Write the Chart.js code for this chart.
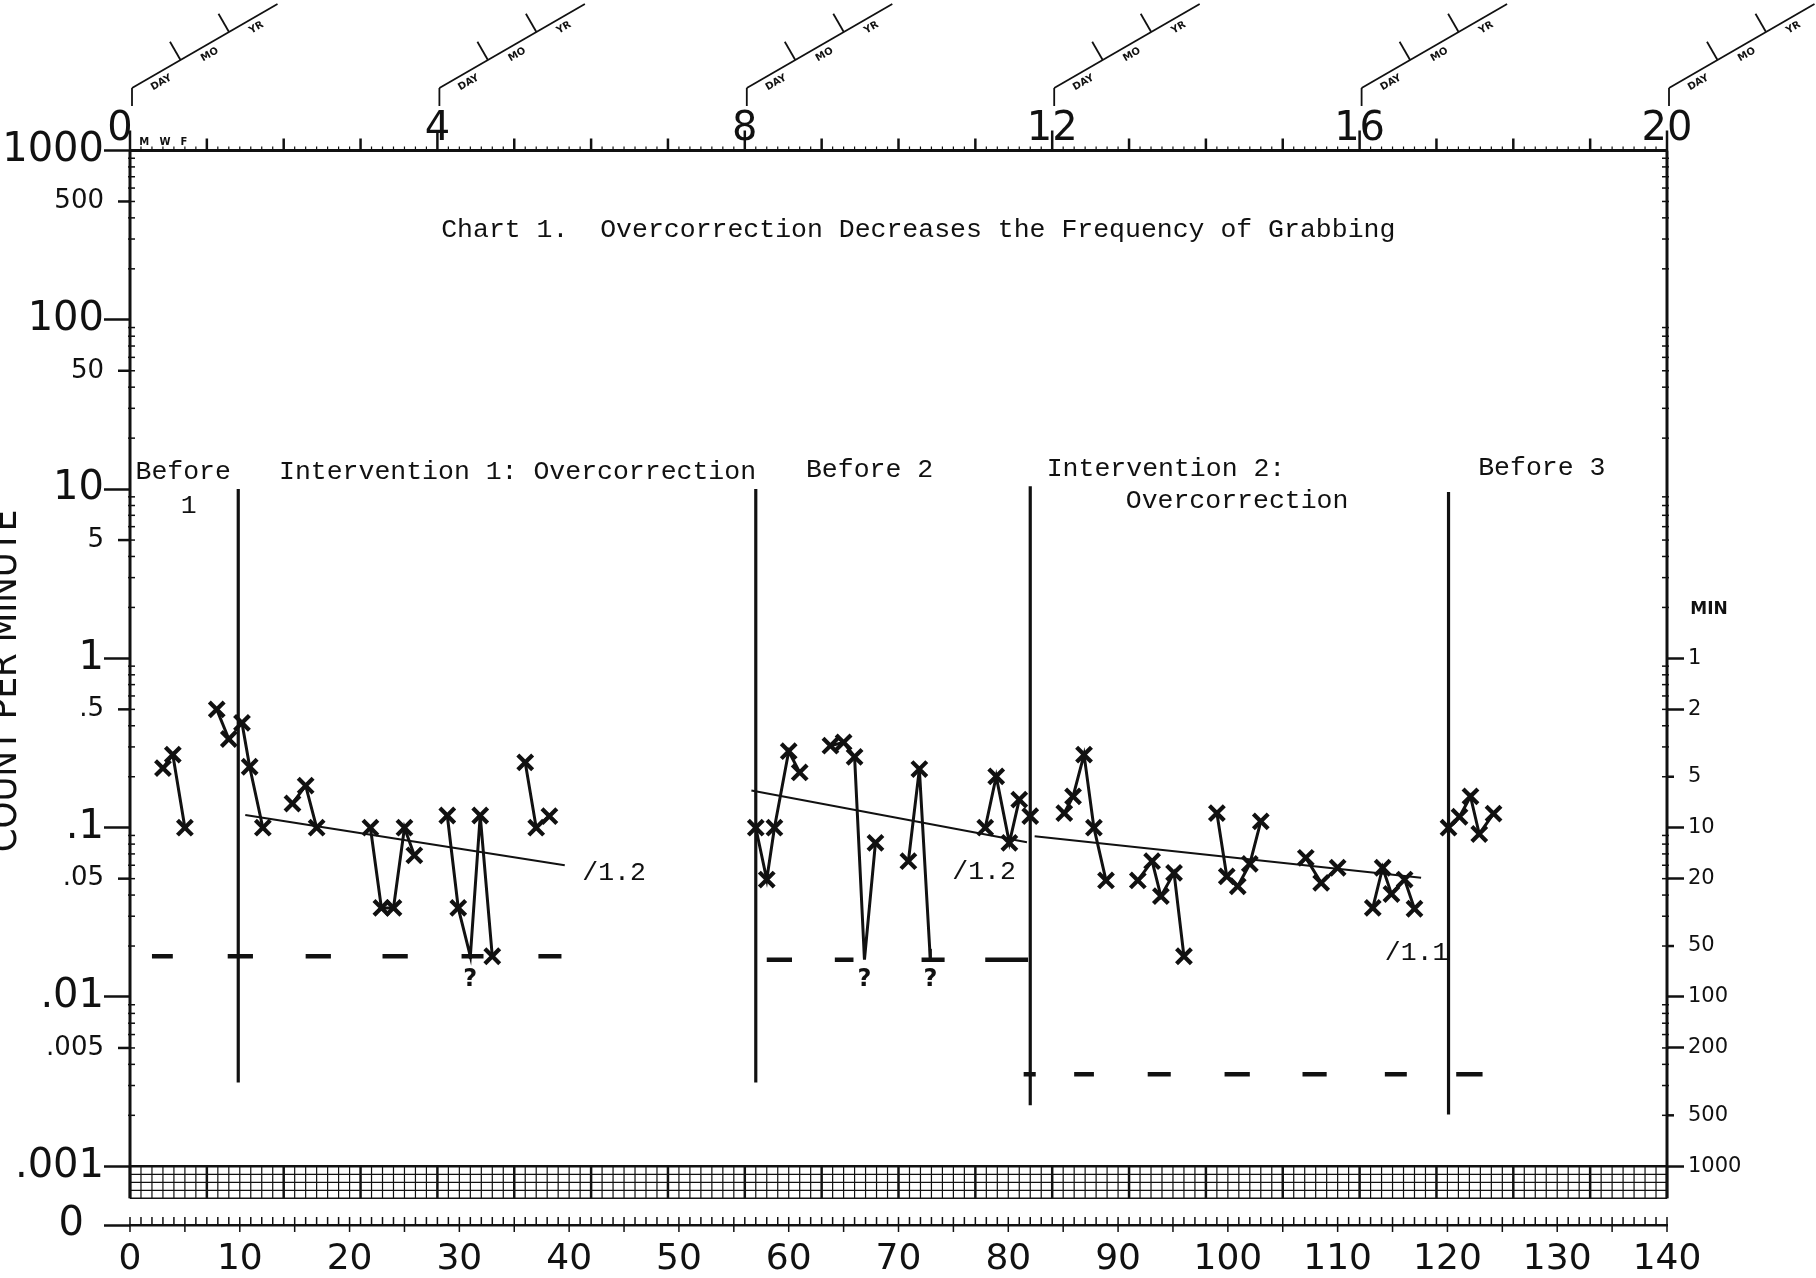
<!DOCTYPE html>
<html>
<head>
<meta charset="utf-8">
<title>Chart 1. Overcorrection Decreases the Frequency of Grabbing</title>
<script src="https://cdn.jsdelivr.net/npm/chart.js@4.4.1/dist/chart.umd.min.js"></script>
<style>
  html, body { margin: 0; padding: 0; background: #fff; }
  canvas { display: block; }
</style>
</head>
<body>
<canvas id="celeration" width="1816" height="1278"></canvas>
<script>
// Standard celeration chart: calendar days across, count per minute on a log axis.
// Values below.

const before1Days = [3, 3.9, 5, 7.9, 9];
const before1Counts = [0.225, 0.27, 0.1, 0.5, 0.334];

const interv1Days = [10.2, 10.9, 12.1, 14.8, 16, 17, 21.9, 22.9, 24, 25, 25.9, 28.9, 29.9, 31, 31.9, 33, 36, 37, 38.2];
const interv1Counts = [0.416, 0.229, 0.1, 0.139, 0.177, 0.1, 0.1, 0.0336, 0.0336, 0.1, 0.0687, 0.118, 0.0336, 0.0174, 0.118, 0.0174, 0.243, 0.1, 0.117];

const before2Days = [57, 58, 58.7, 60, 61, 63.8, 65, 66, 66.9, 67.9, 70.9, 71.9, 72.9, 77.9, 78.9, 80.1, 81];
const before2Counts = [0.1, 0.0494, 0.1, 0.283, 0.212, 0.305, 0.319, 0.262, 0.0166, 0.0813, 0.0634, 0.222, 0.0166, 0.1, 0.201, 0.0813, 0.1465];

const interv2Days = [82, 85.1, 85.9, 86.9, 87.8, 88.9, 91.8, 93.1, 93.9, 95.1, 96, 99, 99.9, 100.9, 102, 103, 107.1, 108.5, 110, 113.2, 114.1, 114.9, 116.1, 117];
const interv2Counts = [0.117, 0.122, 0.153, 0.27, 0.1, 0.0488, 0.0488, 0.0634, 0.0394, 0.0541, 0.0174, 0.122, 0.0516, 0.0451, 0.0611, 0.109, 0.0664, 0.0472, 0.058, 0.0336, 0.058, 0.0406, 0.0494, 0.0332];

const before3Days = [120.1, 121.1, 122.1, 122.9, 124.2];
const before3Counts = [0.1, 0.116, 0.153, 0.0918, 0.121];

// days that fell on the record floor, marked "?" instead of an X
const unsureDays = [31, 66.9, 72.9];

// record floor dashes (1 / minutes observed)
const floorFrom = [2, 8.9, 16, 23, 30.2, 37.2, 58, 64.2, 72.1, 77.9, 81.4, 86, 92.7, 99.7, 106.8, 114.3, 120.8];
const floorTo = [3.9, 11.2, 18.3, 25.3, 32.2, 39.3, 60.3, 65.9, 74.2, 81.8, 82.5, 87.8, 94.8, 102, 109, 116.3, 123.2];
const floorCounts = [0.0174, 0.0174, 0.0174, 0.0174, 0.0174, 0.0174, 0.0166, 0.0166, 0.0166, 0.0166,
  0.0035, 0.0035, 0.0035, 0.0035, 0.0035, 0.0035, 0.0035];

// celeration lines
const celerDays = [[10.5, 39.6], [56.6, 81.7], [82.4, 117.6]];
const celerCounts = [[0.119, 0.06], [0.166, 0.082], [0.0889, 0.0506]];
const celerLabels = ['/1.2', '/1.2', '/1.1'];

// phase change lines
const phaseDays = [9.86, 57, 82, 120.1];
const phaseTop = [10, 10, 10.4, 9.6];
const phaseBottom = [0.00313, 0.00313, 0.00229, 0.00202];

// axes
const ZERO_ROW = 4.5e-4;
const countTicks = [1000, 500, 100, 50, 10, 5, 1, 0.5, 0.1, 0.05, 0.01, 0.005, 0.001, ZERO_ROW];
const countLabels = ['1000', '500', '100', '50', '10', '5', '1', '.5', '.1', '.05', '.01', '.005', '.001', '0\u2002'];
const minuteTicks = [1, 0.5, 0.2, 0.1, 0.05, 0.02, 0.01, 0.005, 0.002, 0.001];
const minuteLabels = ['1', '2', '5', '10', '20', '50', '100', '200', '500', '1000'];
const weekLabels = [0, 4, 8, 12, 16, 20];

const ink = '#111';
const clear = 'rgba(0,0,0,0)';
const NUM = "'DejaVu Sans', sans-serif";
const MONO = "'Liberation Mono', 'DejaVu Sans Mono', monospace";

const isDecade = (v) => Math.abs(Math.log10(v) - Math.round(Math.log10(v))) < 1e-6 || v === ZERO_ROW;
const isTwo = (v) => Math.abs(Math.log10(v / 2) - Math.round(Math.log10(v / 2))) < 1e-6;

function points(days, counts) {
  return days.map((d, i) => ({ x: d, y: counts[i] }));
}

function phaseSeries(days, counts) {
  return {
    type: 'line',
    data: points(days, counts),
    borderColor: ink,
    borderWidth: 3,
    tension: 0,
    pointStyle: 'crossRot',
    pointRadius: (c) => (c.raw && unsureDays.includes(c.raw.x) ? 0 : 10.5),
    pointBorderWidth: 4.2,
    pointBorderColor: ink,
    pointBackgroundColor: ink,
    segment: {
      borderColor: (c) => (c.p1.parsed.x - c.p0.parsed.x > 1.6 ? clear : ink),
    },
  };
}

function plainLine(data, width) {
  return {
    type: 'line',
    data,
    borderColor: ink,
    borderWidth: width,
    pointRadius: 0,
    tension: 0,
    spanGaps: false,
  };
}

const floorData = [];
floorFrom.forEach((d, i) => {
  floorData.push({ x: d, y: floorCounts[i] }, { x: floorTo[i], y: floorCounts[i] }, { x: floorTo[i], y: null });
});

const datasets = [
  phaseSeries(before1Days, before1Counts),
  phaseSeries(interv1Days, interv1Counts),
  phaseSeries(before2Days, before2Counts),
  phaseSeries(interv2Days, interv2Counts),
  phaseSeries(before3Days, before3Counts),
  plainLine(floorData, 4.5),
];
celerDays.forEach((d, i) => datasets.push(plainLine(points(d, celerCounts[i]), 2)));
phaseDays.forEach((d, i) => datasets.push(plainLine([{ x: d, y: phaseTop[i] }, { x: d, y: phaseBottom[i] }], 3.2)));

function seg(ctx, x1, y1, x2, y2) {
  ctx.beginPath();
  ctx.moveTo(x1, y1);
  ctx.lineTo(x2, y2);
  ctx.stroke();
}

const paperDecor = {
  id: 'paperDecor',
  beforeDatasetsDraw(chart) {
    const { ctx, chartArea: a, scales: { x, y } } = chart;
    const X = (d) => x.getPixelForValue(d);
    const Y = (v) => y.getPixelForValue(v);
    const bandTop = Y(0.001);
    const bandBot = bandTop + 32;
    ctx.save();
    ctx.strokeStyle = ink;
    ctx.fillStyle = ink;

    // side axes stop at the bottom of the hatch band
    ctx.lineWidth = 3;
    seg(ctx, a.left, a.top, a.left, bandBot);
    seg(ctx, a.right, a.top, a.right, bandBot);

    // minor log ticks
    ctx.lineWidth = 1.5;
    for (let e = -3; e < 3; e++) {
      for (let k = 2; k < 10; k++) {
        const yy = Y(k * Math.pow(10, e));
        seg(ctx, a.left - 2, yy, a.left + 5, yy);
        seg(ctx, a.right - 5, yy, a.right + 2, yy);
      }
    }
    // short ticks for the half-decade labels on the left, and 2/20/200 on the right
    ctx.lineWidth = 2.5;
    countTicks.forEach((v) => { if (!isDecade(v)) seg(ctx, a.left - 12, Y(v), a.left, Y(v)); });
    minuteTicks.forEach((v) => { if (isTwo(v)) seg(ctx, a.right, Y(v), a.right + 7, Y(v)); });

    // hatch band under .001
    for (let d = 0; d <= 140; d++) {
      ctx.lineWidth = d % 7 === 0 ? 2.5 : 1.2;
      seg(ctx, X(d), bandTop, X(d), bandBot);
    }
    ctx.lineWidth = 1.2;
    [8, 16, 24].forEach((o) => seg(ctx, a.left, bandTop + o, a.right, bandTop + o));
    ctx.lineWidth = 2.5;
    seg(ctx, a.left, bandTop, a.right, bandTop);
    ctx.lineWidth = 1.5;
    seg(ctx, a.left, bandBot, a.right, bandBot);

    // day ticks on the zero row and along the top edge
    for (let d = 0; d <= 140; d++) {
      ctx.lineWidth = 1.5;
      seg(ctx, X(d), a.bottom, X(d), a.bottom - 8);
      if (d % 5 === 0) seg(ctx, X(d), a.bottom, X(d), a.bottom + 7);
      const up = d % 28 === 0 ? 20 : d % 7 === 0 ? 12 : 4;
      ctx.lineWidth = d % 7 === 0 ? 2.5 : 1.2;
      seg(ctx, X(d), a.top, X(d), a.top - up);
    }

    // DAY / MO / YR slants above every fourth week
    ctx.font = 'bold 10px ' + NUM;
    ctx.textAlign = 'center';
    ctx.textBaseline = 'middle';
    for (let d = 0; d <= 140; d += 28) {
      ctx.save();
      ctx.translate(X(d) + 2, 106);
      ctx.lineWidth = 1.8;
      seg(ctx, 0, 0, 0, -18);
      ctx.translate(0, -18);
      ctx.rotate(-Math.PI / 6);
      seg(ctx, 0, 0, 168, 0);
      seg(ctx, 56, 0, 56, -21);
      seg(ctx, 112, 0, 112, -21);
      ctx.fillText('DAY', 28, 10);
      ctx.fillText('MO', 84, 10);
      ctx.fillText('YR', 138, 10);
      ctx.restore();
    }
    ctx.fillText('M', X(1.3), a.top - 8);
    ctx.fillText('W', X(3.2), a.top - 8);
    ctx.fillText('F', X(4.9), a.top - 8);
    ctx.restore();
  },
  afterDatasetsDraw(chart) {
    const { ctx, chartArea: a, scales: { x, y } } = chart;
    const X = (d) => x.getPixelForValue(d);
    const Y = (v) => y.getPixelForValue(v);
    ctx.save();
    ctx.fillStyle = ink;
    ctx.strokeStyle = ink;
    ctx.textBaseline = 'middle';

    ctx.font = '26.5px ' + MONO;
    ctx.textAlign = 'center';
    ctx.fillText('Chart 1.  Overcorrection Decreases the Frequency of Grabbing', X(71.8), Y(340));
    ctx.fillText('1', X(5.35), Y(7.97));
    ctx.textAlign = 'left';
    ctx.fillText('Before', X(0.5), Y(12.6));
    ctx.fillText('Intervention 1: Overcorrection', X(13.57), Y(12.6));
    ctx.fillText('Before 2', X(61.57), Y(13));
    ctx.fillText('Intervention 2:', X(83.5), Y(13.2));
    ctx.fillText('Overcorrection', X(90.7), Y(8.47));
    ctx.fillText('Before 3', X(122.8), Y(13.4));
    ctx.fillText(celerLabels[0], X(41.2), Y(0.0543));
    ctx.fillText(celerLabels[1], X(74.9), Y(0.0551));
    ctx.fillText(celerLabels[2], X(114.3), Y(0.0183));

    ctx.font = 'bold 24px ' + NUM;
    ctx.textAlign = 'center';
    unsureDays.forEach((d) => ctx.fillText('?', X(d), Y(0.0168) + 21));
    ctx.lineWidth = 3;
    unsureDays.forEach((d) => seg(ctx, X(d), Y(0.0168), X(d), Y(0.0168) - 10));

    ctx.font = 'bold 17px ' + NUM;
    ctx.fillText('MIN', a.right + 42, Y(1.95));

    ctx.save();
    ctx.translate(16, 681);
    ctx.rotate(-Math.PI / 2);
    ctx.textBaseline = 'alphabetic';
    ctx.font = "38px 'Liberation Sans Narrow', 'DejaVu Sans Condensed', sans-serif";
    ctx.fillText('COUNT PER MINUTE', 0, 0);
    ctx.restore();
    ctx.restore();
  },
};

new Chart(document.getElementById('celeration'), {
  data: { datasets },
  plugins: [paperDecor],
  options: {
    responsive: false,
    animation: false,
    devicePixelRatio: 1,
    events: [],
    layout: { padding: 0 },
    plugins: { legend: { display: false }, tooltip: { enabled: false } },
    scales: {
      x: {
        type: 'linear',
        position: 'bottom',
        min: 0,
        max: 140,
        afterFit: (s) => { s.height = 53; },
        ticks: { stepSize: 10, autoSkip: false, maxRotation: 0, padding: 13, color: ink, font: { family: NUM, size: 36 } },
        grid: { display: false, drawTicks: false },
        border: { display: true, color: ink, width: 2.5 },
      },
      x2: {
        type: 'linear',
        position: 'top',
        min: 0,
        max: 140,
        afterFit: (s) => { s.height = 150.5; },
        afterBuildTicks: (s) => { s.ticks = weekLabels.map((w) => ({ value: w * 7 })); },
        ticks: {
          autoSkip: false,
          maxRotation: 0,
          padding: -3,
          color: ink,
          font: { family: NUM, size: 40 },
          callback: (v) => (v === 0 ? '0\u2002' : String(v / 7)),
        },
        grid: { display: false, drawTicks: false },
        border: { display: true, color: ink, width: 3 },
      },
      y: {
        type: 'logarithmic',
        position: 'left',
        min: ZERO_ROW,
        max: 1000,
        afterFit: (s) => { s.width = 130; },
        afterBuildTicks: (s) => { s.ticks = countTicks.map((v) => ({ value: v })); },
        ticks: {
          autoSkip: false,
          padding: 0,
          color: ink,
          callback: (v) => countLabels[countTicks.indexOf(v)],
          font: (c) => ({ family: NUM, size: isDecade(c.tick.value) ? 40 : 26 }),
        },
        grid: {
          display: true,
          drawOnChartArea: false,
          drawTicks: true,
          tickLength: 26,
          tickWidth: 2.5,
          tickColor: (c) => (c.tick && isDecade(c.tick.value) ? ink : clear),
          color: ink,
        },
        border: { display: false },
      },
      y2: {
        type: 'logarithmic',
        position: 'right',
        min: ZERO_ROW,
        max: 1000,
        afterFit: (s) => { s.width = 149; },
        afterBuildTicks: (s) => { s.ticks = minuteTicks.map((v) => ({ value: v })); },
        ticks: {
          autoSkip: false,
          padding: 4,
          color: ink,
          callback: (v) => minuteLabels[minuteTicks.indexOf(v)],
          font: { family: NUM, size: 21 },
        },
        grid: {
          display: true,
          drawOnChartArea: false,
          drawTicks: true,
          tickLength: 17,
          tickWidth: 2.5,
          tickColor: (c) => (c.tick && isTwo(c.tick.value) ? clear : ink),
          color: ink,
        },
        border: { display: false },
      },
    },
  },
});
</script>
</body>
</html>
